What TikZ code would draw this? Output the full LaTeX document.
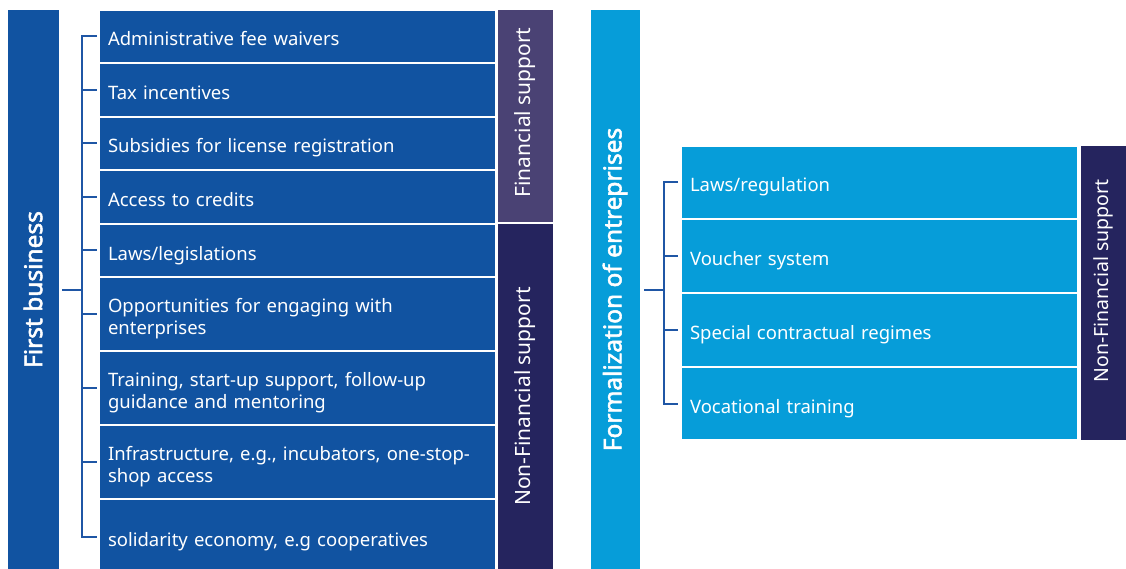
\documentclass[tikz,border=0pt]{standalone}
\usepackage{fontspec}
\setmainfont{Noto Sans}[AutoFakeBold=2.2]
\usetikzlibrary{positioning}
\definecolor{ItemBlue}{HTML}{1153A1}
\definecolor{FormBlue}{HTML}{069DD9}
\definecolor{FinPurple}{HTML}{4A4274}
\definecolor{NonFinNavy}{HTML}{25245E}
\definecolor{BracketBlue}{HTML}{1F56A5}
\newcommand{\rowtop}{\rule{0pt}{24pt}}
\newcommand{\rowbottom}{\rule[-5pt]{0pt}{5pt}}

\tikzset{
    ItemBox/.style={fill=#1, draw=white, line width=1.5pt, outer sep=0pt, text=white,
        minimum width=397pt, text width=379pt, inner xsep=9pt, inner ysep=0pt,
        align=left, font=\fontsize{18.5}{22}\selectfont,
        execute at begin node=\rowtop, execute at end node=\rowbottom},
    BarBox/.style={fill=#1, draw=white, line width=1pt, outer sep=0pt, inner sep=0pt},
    BarTitle/.style={rotate=90, text=white, font=\fontsize{24.5}{28}\selectfont\bfseries},
    SideTitle/.style={rotate=90, text=white, font=\fontsize{#1}{24}\selectfont},
    Bracket/.style={draw=BracketBlue, line width=2pt},
}

\begin{document}
\begin{tikzpicture}[x=1pt, y=-1pt]

    \useasboundingbox (0, 0) rectangle (1126, 569);

    % Primer bloque: primer negocio.
    \node [BarBox=ItemBlue, anchor=north west, minimum width=52pt, minimum height=559pt] (fb) at (7, 10) {};
    \node [BarTitle] (fbtext) at (fb.center) {First business};

    \node [ItemBox=ItemBlue, anchor=north west, minimum height=53pt] (a1) at (99, 10) {Administrative fee waivers};
    \node [ItemBox=ItemBlue, below=0pt of a1, minimum height=54pt] (a2) {Tax incentives};
    \node [ItemBox=ItemBlue, below=0pt of a2, minimum height=53pt] (a3) {Subsidies for license registration};
    \node [ItemBox=ItemBlue, below=0pt of a3, minimum height=54pt] (a4) {Access to credits};
    \node [ItemBox=ItemBlue, below=0pt of a4, minimum height=53pt] (a5) {Laws/legislations};
    \node [ItemBox=ItemBlue, below=0pt of a5, minimum height=74pt] (a6) {Opportunities for engaging with\\enterprises};
    \node [ItemBox=ItemBlue, below=0pt of a6, minimum height=74pt] (a7) {Training, start-up support, follow-up\\guidance and mentoring};
    \node [ItemBox=ItemBlue, below=0pt of a7, minimum height=74pt] (a8) {Infrastructure, e.g., incubators, one-stop-\\shop access};
    \node [ItemBox=ItemBlue, below=0pt of a8, minimum height=76pt] (a9) {solidarity economy, e.g cooperatives};

    \node [BarBox=FinPurple, anchor=north west, minimum width=56pt, minimum height=213pt] (fin) at ([xshift=1pt]a1.north east) {};
    \node [SideTitle=21, xshift=4pt] (fintext) at (fin.center) {Financial support};
    \node [BarBox=NonFinNavy, anchor=north west, minimum width=56pt, minimum height=345pt] (nonfin) at ([xshift=1pt]a5.north east) {};
    \node [SideTitle=21] (nonfintext) at (nonfin.center) {Non-Financial support};

    \coordinate (spineL) at (82, 0);
    \draw [Bracket] ([xshift=-2pt]a1.west) -- (a1.west -| spineL) -- (a9.west -| spineL) -- ([xshift=-2pt]a9.west);
    \foreach \i in {2, ..., 8}
        \draw [Bracket] (a\i.west -| spineL) -- ([xshift=-2pt]a\i.west);
    \draw [Bracket] ([xshift=3pt]fb.east) -- (fb.east -| spineL);

    % Segundo bloque: formalizacion de empresas.
    \node [BarBox=FormBlue, anchor=north west, minimum width=50pt, minimum height=559pt] (fe) at (590, 10) {};
    \node [BarTitle] (fetext) at (fe.center) {Formalization of entreprises};

    \node [ItemBox=FormBlue, anchor=north west, minimum height=73pt] (b1) at (681, 146) {Laws/regulation};
    \node [ItemBox=FormBlue, below=0pt of b1, minimum height=74pt] (b2) {Voucher system};
    \node [ItemBox=FormBlue, below=0pt of b2, minimum height=74pt] (b3) {Special contractual regimes};
    \node [ItemBox=FormBlue, below=0pt of b3, minimum height=73pt] (b4) {Vocational training};

    \node [BarBox=NonFinNavy, anchor=north west, minimum width=46pt, minimum height=294pt] (nonfinb) at ([xshift=2pt]b1.north east) {};
    \node [SideTitle=19.5, xshift=12pt] (nonfinbtext) at (nonfinb.center) {Non-Financial support};

    \coordinate (spineR) at (664, 0);
    \draw [Bracket] ([xshift=-3pt]b1.west) -- (b1.west -| spineR) -- (b4.west -| spineR) -- ([xshift=-3pt]b4.west);
    \foreach \i in {2, 3}
        \draw [Bracket] (b\i.west -| spineR) -- ([xshift=-3pt]b\i.west);
    \draw [Bracket] ([xshift=4pt]fe.east) -- (fe.east -| spineR);
\end{tikzpicture}
\end{document}
